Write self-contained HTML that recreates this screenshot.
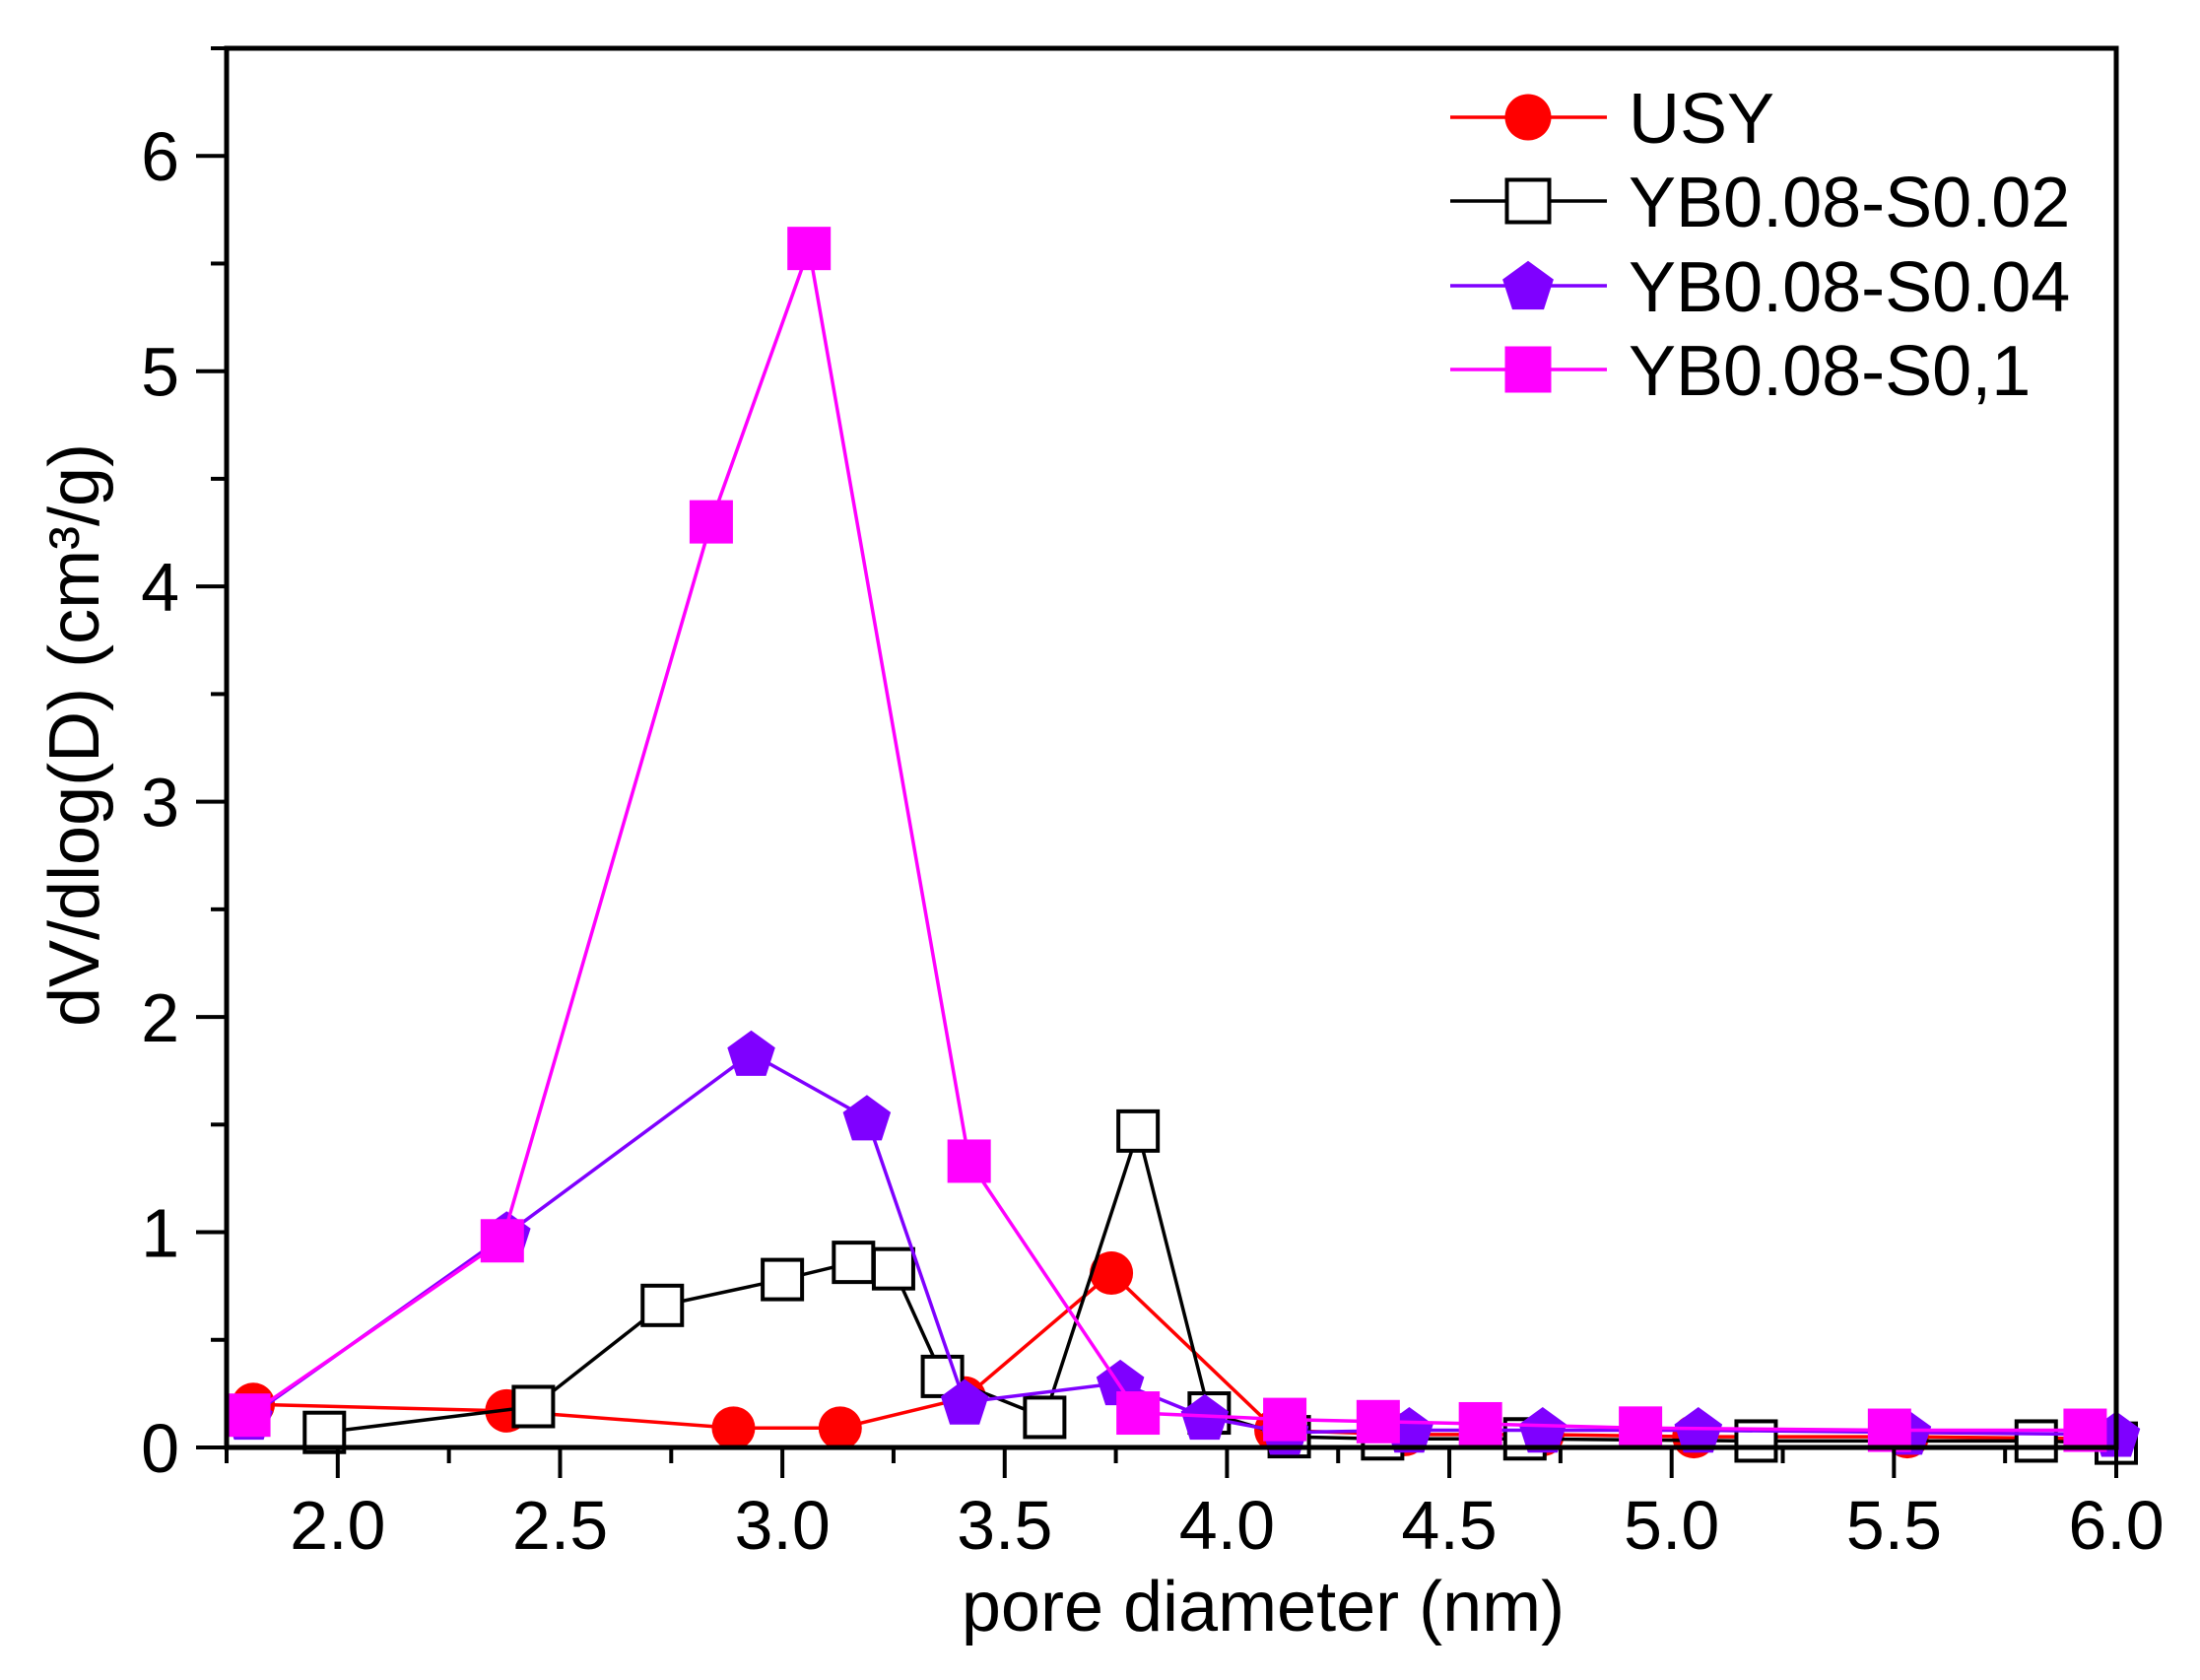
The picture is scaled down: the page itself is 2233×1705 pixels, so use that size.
<!DOCTYPE html>
<html><head><meta charset="utf-8"><style>html,body{margin:0;padding:0;background:#fff}svg{display:block}text{font-family:"Liberation Sans",Arial,sans-serif;fill:#000}</style></head>
<body>
<svg id="chart" width="2233" height="1705" viewBox="0 0 2233 1705" xmlns="http://www.w3.org/2000/svg">
<g id="series"></g>
<g id="axes"></g>
<g id="legend"></g>
</svg>
<script>
const xTicks = [2.0, 2.5, 3.0, 3.5, 4.0, 4.5, 5.0, 5.5, 6.0];
const xTickLabels = ["2.0","2.5","3.0","3.5","4.0","4.5","5.0","5.5","6.0"];
const yTicks = [0,1,2,3,4,5,6];
const yTickLabels = ["0","1","2","3","4","5","6"];
const usyX = [1.81,2.38,2.89,3.13,3.41,3.74,4.11,4.40,4.71,5.05,5.53,6.0];
const usyY = [0.20,0.17,0.09,0.09,0.23,0.81,0.08,0.06,0.06,0.05,0.05,0.04];
const s02X = [1.97,2.44,2.73,3.00,3.16,3.25,3.36,3.59,3.80,3.96,4.14,4.35,4.67,5.19,5.82,6.0];
const s02Y = [0.07,0.19,0.66,0.78,0.86,0.83,0.33,0.14,1.47,0.16,0.05,0.04,0.04,0.03,0.03,0.02];
const s04X = [1.80,2.38,2.93,3.19,3.41,3.76,3.95,4.13,4.41,4.71,5.06,5.53,6.0];
const s04Y = [0.14,0.99,1.83,1.53,0.21,0.30,0.14,0.07,0.08,0.08,0.08,0.07,0.06];
const s1X = [1.80,2.37,2.84,3.06,3.42,3.80,4.13,4.34,4.57,4.93,5.49,5.93];
const s1Y = [0.15,0.96,4.30,5.57,1.33,0.16,0.13,0.12,0.11,0.09,0.08,0.08];

const NS="http://www.w3.org/2000/svg";
const L=230,R=2148,T=49,B=1469;
const X0=1.75,X1=6.0,Y0=0,Y1=6.5;
function sx(v){return L+(v-X0)/(X1-X0)*(R-L);}
function sy(v){return B-(v-Y0)/(Y1-Y0)*(B-T);}
function mk(tag,attrs,parent){const e=document.createElementNS(NS,tag);for(const k in attrs)e.setAttribute(k,attrs[k]);parent.appendChild(e);return e;}

function marker(g,kind,cx,cy,s){
  let e;
  if(kind==="circle"){e=mk("ellipse",{cx:cx,cy:cy,rx:s/2,ry:s/2,fill:"#ff0000"},g);}
  else if(kind==="open"){e=mk("rect",{x:cx-s/2+2,y:cy-s/2+2,width:s-4,height:s-4,fill:"#fff",stroke:"#000","stroke-width":4},g);}
  else if(kind==="pent"){const r=s*0.58;let p=[];for(let i=0;i<5;i++){const a=-Math.PI/2+i*2*Math.PI/5;p.push((cx+r*Math.cos(a)).toFixed(1)+","+(cy+r*Math.sin(a)+2).toFixed(1));}e=mk("polygon",{points:p.join(" "),fill:"#7f00ff"},g);}
  else {e=mk("rect",{x:cx-s/2,y:cy-s/2,width:s,height:s,fill:"#ff00ff"},g);}
  return e;
}
const series=[
 {name:"usy",xs:usyX,ys:usyY,color:"#ff0000",kind:"circle",label:"USY"},
 {name:"yb-s0-02",xs:s02X,ys:s02Y,color:"#000000",kind:"open",label:"YB0.08-S0.02"},
 {name:"yb-s0-04",xs:s04X,ys:s04Y,color:"#7f00ff",kind:"pent",label:"YB0.08-S0.04"},
 {name:"yb-s0-1",xs:s1X,ys:s1Y,color:"#ff00ff",kind:"square",label:"YB0.08-S0,1"}
];
const sg=document.getElementById("series");
series.forEach(s=>{
  const g=mk("g",{},sg);
  
  
  const pts=s.xs.map((x,i)=>sx(x).toFixed(1)+","+sy(s.ys[i]).toFixed(1)).join(" ");
  const line=mk("polyline",{points:pts,fill:"none",stroke:s.color,"stroke-width":3.5},g);
  
  
  s.xs.forEach((x,i)=>{
    const m=marker(g,s.kind,sx(x),sy(s.ys[i]),44);
    
    
  });
});
const ag=document.getElementById("axes");
const frame=mk("rect",{x:L,y:T,width:R-L,height:B-T,fill:"none",stroke:"#000","stroke-width":5},ag);


xTicks.forEach((v,i)=>{
  const t=mk("line",{x1:sx(v),x2:sx(v),y1:B,y2:B+31,stroke:"#000","stroke-width":4},ag);
  
  
  const tx=mk("text",{x:sx(v),y:1572,"font-size":70,"text-anchor":"middle"},ag);
  tx.textContent=xTickLabels[i];
  
  
  const mv=v-0.25;
  const m=mk("line",{x1:sx(mv),x2:sx(mv),y1:B,y2:B+16,stroke:"#000","stroke-width":4},ag);
  
  
});
yTicks.forEach((v,i)=>{
  const t=mk("line",{x1:L-31,x2:L,y1:sy(v),y2:sy(v),stroke:"#000","stroke-width":4},ag);
  
  
  const tx=mk("text",{x:182,y:sy(v)+25,"font-size":70,"text-anchor":"end"},ag);
  tx.textContent=yTickLabels[i];
  
  
  const m=mk("line",{x1:L-16,x2:L,y1:sy(v+0.5),y2:sy(v+0.5),stroke:"#000","stroke-width":4},ag);
  
  
});
const xt=mk("text",{x:1282,y:1655,"font-size":72,"text-anchor":"middle"},ag);
xt.textContent="pore diameter (nm)";


const yt=mk("text",{x:0,y:0,"font-size":72,"text-anchor":"middle",transform:"translate(100,746) rotate(-90)"},ag);
yt.textContent="dV/dlog(D) (cm³/g)";


const lg=document.getElementById("legend");
const rows=[119,204,290,375];
series.forEach((s,i)=>{
  const g=mk("g",{},lg);
  
  
  mk("line",{x1:1472,x2:1631,y1:rows[i],y2:rows[i],stroke:s.color,"stroke-width":3.5},g);
  marker(g,s.kind,1551,rows[i],47);
  const t=mk("text",{x:1653,y:rows[i]+26,"font-size":72},g);
  t.textContent=s.label;
});
</script>
</body></html>
